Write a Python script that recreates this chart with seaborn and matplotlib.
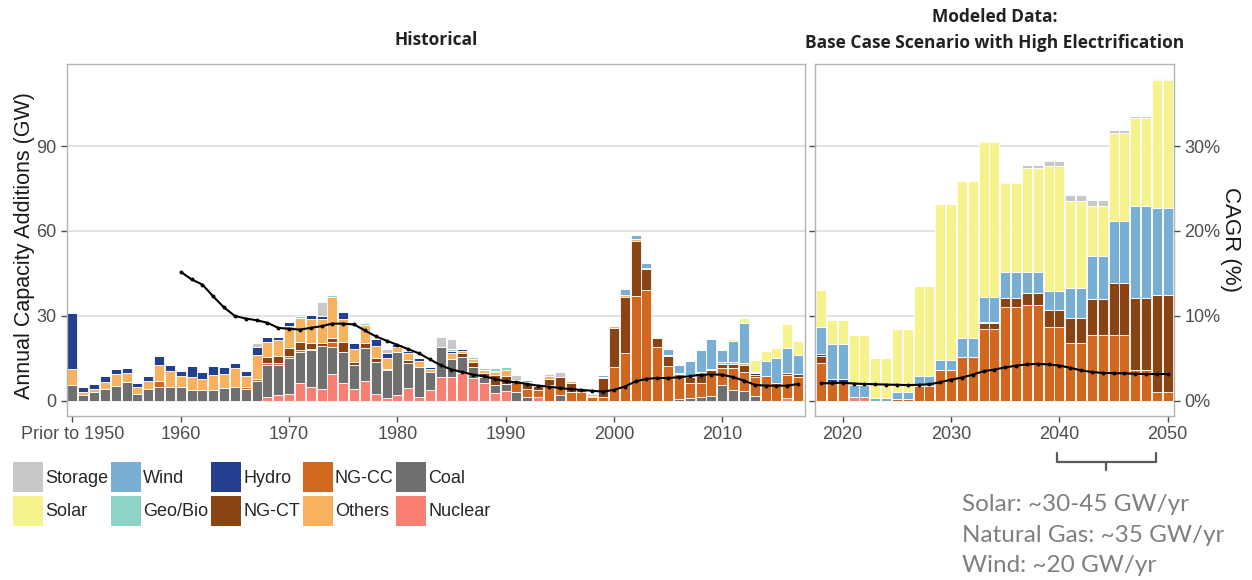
import matplotlib
matplotlib.use("Agg")
import matplotlib.pyplot as plt
import pandas as pd
import seaborn as sns
from matplotlib.patches import Patch
from matplotlib.lines import Line2D
from matplotlib.ticker import FuncFormatter

sns.set_theme(style="white")
plt.rcParams["font.family"] = ["Liberation Sans", "DejaVu Sans"]

# ---------------- historical annual additions (GW), 1950 ("Prior to 1950") .. 2017
hist_years = list(range(1950, 2018))

hist_nuclear = [0, 0, 0, 0, 0, 0, 0, 0, 0, 0,
                0, 0, 0, 0, 0, 0, 0, 0, 1.5, 2.1,
                2.4, 6.2, 5.0, 4.1, 9.4, 6.5, 4.1, 7.1, 2.4, 0.9,
                2.1, 4.5, 1.3, 3.9, 8.4, 8.6, 9.8, 8.0, 6.2, 2.7,
                3.5, 0, 0, 1.3, 0, 0, 0, 0, 0, 0,
                0, 0, 0, 0, 0, 0, 0, 0, 0, 0,
                0, 0, 0, 0, 0, 0, 1.2, 0]
hist_coal = [5.6, 2.1, 3.1, 4.1, 5.4, 6.6, 2.4, 4.1, 5.1, 5.1,
             5.1, 3.9, 3.9, 3.9, 4.7, 4.8, 4.1, 7.1, 11.2, 10.6,
             12.7, 11.2, 13.0, 15.3, 9.8, 10.9, 8.6, 11.5, 11.5, 10.0,
             15.3, 9.0, 10.8, 6.5, 10.8, 6.1, 5.6, 3.9, 2.4, 2.9,
             2.4, 3.3, 1.5, 0, 0, 2.1, 0, 0, 0, 0,
             0, 0, 0, 0, 0, 0, 0.6, 0.9, 1.5, 1.8,
             5.6, 3.9, 3.5, 1.8, 0, 0, 0, 0]
hist_ngcc = [0, 0, 0, 0, 0, 0, 0, 0, 2.1, 0,
             0, 0, 0, 0, 0, 0.3, 0.7, 0.7, 0.8, 0.6,
             0.6, 0.6, 0.5, 0, 1.7, 0, 0, 0, 0, 0,
             0, 0, 0, 0, 0, 0, 0, 0, 0, 0,
             0, 3.5, 2.9, 2.6, 5.5, 2.4, 3.3, 3.3, 1.5, 1.5,
             12.1, 16.8, 37.0, 39.2, 19.2, 12.5, 8.8, 5.5, 4.7, 7.4,
             5.9, 7.6, 6.8, 6.8, 8.8, 6.2, 8.0, 8.6]
hist_ngct = [0, 0, 0, 0, 0, 0, 0, 0, 0, 0,
             0, 0, 0, 0, 0, 0, 0, 0, 2.1, 2.6,
             2.9, 2.7, 2.0, 0.9, 1.5, 3.5, 1.2, 1.8, 1.4, 0.5,
             0, 1.0, 0, 0, 0, 0, 1.4, 2.0, 1.4, 3.5,
             2.9, 0, 1.8, 1.4, 2.4, 4.1, 2.9, 1.0, 0.3, 6.5,
             13.5, 19.8, 19.5, 7.3, 2.9, 3.2, 0, 2.0, 3.5, 1.8,
             1.5, 1.5, 2.4, 0.6, 0, 0, 0.8, 0.9]
hist_others = [5.7, 1.2, 1.0, 2.7, 4.1, 3.2, 2.7, 3.1, 5.5, 5.5,
               3.8, 4.7, 3.7, 5.3, 4.7, 6.7, 4.1, 8.5, 5.1, 5.6,
               7.9, 8.5, 8.5, 8.5, 14.2, 8.0, 4.5, 6.4, 4.2, 3.7,
               1.6, 2.3, 2.0, 1.0, 0, 2.1, 0.8, 0.8, 0.9, 1.2,
               2.1, 0.6, 0.6, 0.4, 0.8, 0, 1.0, 0.2, 0.6, 0.6,
               0.8, 0.8, 0.8, 0.3, 0.6, 0.6, 0.6, 0.4, 0.6, 0.2,
               0.8, 0.8, 0.6, 0, 0, 0, 0, 0]
hist_hydro = [19.6, 1.5, 1.8, 2.0, 1.7, 1.7, 1.1, 1.5, 3.2, 2.1,
              1.8, 3.8, 2.5, 3.3, 2.5, 1.5, 1.8, 2.6, 2.0, 1.2,
              1.2, 0, 1.5, 1.2, 0, 2.4, 2.0, 0, 2.3, 2.0,
              1.1, 1.0, 0.9, 0.5, 0, 0.9, 0.6, 0, 0, 0.3,
              0, 0, 0, 0, 0, 0, 0, 0, 0, 0,
              0, 0, 0, 0, 0, 0, 0, 0, 0, 0,
              0, 0, 0, 0.6, 0, 0, 0, 0]
hist_geo = [0.4, 0, 0, 0, 0, 0, 0, 0, 0, 0,
            0, 0, 0, 0, 0, 0, 0, 0, 0, 0,
            0.3, 0.8, 0, 0, 0.8, 0, 0, 0.8, 0, 0,
            0, 0, 0, 0, 0, 0.8, 0, 0.9, 0.9, 1.2,
            1.0, 0, 0, 0, 0, 0, 0.2, 0, 0, 0,
            0, 0, 0, 0, 0, 0, 0, 0, 0, 0,
            0, 0, 0, 0, 0, 0, 0, 0]
hist_wind = [0, 0, 0, 0, 0, 0, 0, 0, 0, 0,
             0, 0, 0, 0, 0, 0, 0, 0, 0, 0,
             0, 0, 0, 0, 0, 0, 0, 0, 0, 0,
             0, 0, 0, 0, 0, 0, 0, 0, 0, 0,
             0, 0, 0.6, 0, 0, 0, 0, 0, 0, 0.6,
             0, 2.0, 1.2, 2.0, 0.3, 2.0, 2.7, 5.3, 7.6, 10.6,
             4.1, 7.4, 14.1, 0.6, 5.3, 8.8, 8.8, 6.7]
hist_solar = [0, 0, 0, 0, 0, 0, 0, 0, 0, 0,
              0, 0, 0, 0, 0, 0, 0, 0, 0, 0,
              0, 0, 0, 0, 0, 0, 0, 0, 0, 0,
              0, 0, 0, 0, 0, 0, 0, 0, 0, 0,
              0, 0, 0, 0, 0, 0, 0, 0, 0, 0,
              0, 0, 0, 0, 0, 0, 0, 0, 0, 0,
              0, 0.8, 1.8, 3.9, 3.5, 3.8, 8.4, 5.1]
hist_storage = [0, 0, 0, 0, 0, 0, 0, 0, 0, 0,
                0, 0, 0, 0, 0, 0, 0, 1.5, 0, 0,
                0, 0, 0, 5.0, 0, 0, 0, 0, 0, 1.1,
                0, 0, 0, 0, 3.3, 3.2, 0, 0, 0, 0,
                0, 1.8, 0, 0.2, 0.7, 1.8, 0, 0, 0, 0,
                0, 0, 0, 0, 0, 0, 0, 0, 0, 0,
                0, 0, 0, 0, 0, 0, 0, 0]

# ---------------- modeled additions (GW), 2018 .. 2050
proj_years = list(range(2018, 2051))

proj_nuclear = [0, 0, 0, 1.5, 1.5, 0, 0, 0, 0, 0, 0, 0, 0, 0, 0, 0, 0,
                0, 0, 0, 0, 0, 0, 0, 0, 0, 0, 0, 0, 0, 0, 0, 0]
proj_coal = [0] * 33
proj_ngcc = [13.3, 6.2, 6.2, 0, 0, 0, 0, 0.7, 0.7, 5.3, 5.3, 10.9, 10.9,
             15.6, 15.6, 25.3, 25.3, 33.3, 33.3, 33.9, 33.9, 26.2, 26.2,
             20.4, 20.4, 23.3, 23.3, 23.3, 23.3, 10.9, 10.9, 3.3, 3.3]
proj_ngct = [2.4, 0, 0, 0, 0, 0, 0, 0, 0, 0, 0, 0, 0,
             0, 0, 2.1, 2.1, 2.9, 2.9, 4.1, 4.1, 5.9, 5.9,
             8.8, 8.8, 12.6, 12.6, 18.2, 18.2, 25.6, 25.6, 34.1, 34.1]
proj_others = [0] * 33
proj_hydro = [0.9, 1.4, 1.4, 0, 0, 0, 0, 0, 0, 0, 0, 0, 0, 0, 0, 0, 0,
              0, 0, 0, 0, 0, 0, 0, 0, 0, 0, 0, 0, 0, 0, 0, 0]
proj_geo = [0, 0, 0, 0, 0, 0, 0, 0, 0, 0, 0, 0, 0, 0, 0, 0.3, 0.3,
            0, 0, 0, 0, 0, 0, 0, 0, 0, 0, 0, 0, 0, 0, 0, 0]
proj_wind = [9.4, 12.5, 12.5, 4.1, 4.1, 1.2, 1.2, 2.6, 2.6, 3.5, 3.5, 3.5, 3.5,
             6.5, 6.5, 8.9, 8.9, 9.4, 9.4, 7.6, 7.6, 6.8, 6.8,
             10.8, 10.8, 15.4, 15.4, 22.1, 22.1, 32.2, 32.2, 30.6, 30.6]
proj_solar = [13.2, 8.5, 8.5, 17.6, 17.6, 14.1, 14.1, 22.1, 22.1, 31.8, 31.8, 55.1, 55.1,
              55.6, 55.6, 54.9, 54.9, 31.2, 31.2, 36.8, 36.8, 44.0, 44.0,
              30.7, 30.7, 17.6, 17.6, 31.1, 31.1, 31.3, 31.3, 45.3, 45.3]
proj_storage = [0, 0, 0, 0, 0, 0, 0, 0, 0, 0, 0, 0, 0, 0, 0, 0.4, 0.4,
                0.6, 0.6, 0.8, 0.8, 1.8, 1.8, 2.0, 2.0, 2.0, 2.0, 0.9, 0.9,
                0.5, 0.5, 0.3, 0.3]

# ---------------- compound annual growth rate (%)
cagr_hist_years = list(range(1960, 2018))
cagr_hist = [15.2, 14.3, 13.7, 12.3, 11.0, 10.0, 9.7, 9.5, 9.2, 8.6,
             8.5, 8.4, 8.6, 8.8, 9.1, 9.1, 9.0, 8.3, 7.6, 7.1,
             6.6, 6.1, 5.6, 4.9, 4.2, 3.7, 3.4, 3.1, 2.9, 2.6,
             2.3, 2.2, 2.0, 1.8, 1.7, 1.5, 1.4, 1.3, 1.2, 1.1,
             1.3, 1.7, 2.3, 2.6, 2.7, 2.7, 2.8, 2.9, 3.1, 3.1,
             3.1, 2.8, 2.4, 1.9, 1.8, 1.8, 1.8, 2.0]
cagr_proj_years = list(range(2018, 2051))
cagr_proj = [2.07, 2.1, 2.15, 2.05, 2.0, 1.97, 1.93, 1.9, 1.87, 1.9, 1.97,
             2.2, 2.5, 2.75, 3.1, 3.5, 3.7, 3.95, 4.15, 4.3, 4.37, 4.3,
             4.17, 3.9, 3.6, 3.4, 3.3, 3.27, 3.25, 3.2, 3.17, 3.17, 3.17]

# ---------------- labels and styling
hist_ticks = [1950, 1960, 1970, 1980, 1990, 2000, 2010]
hist_tick_labels = ["Prior to 1950", "1960", "1970", "1980", "1990", "2000", "2010"]
proj_ticks = [2020, 2030, 2040, 2050]
gw_ticks = [0, 30, 60, 90]
cagr_ticks = [0, 10, 20, 30]

stack_order = ["Storage", "Solar", "Wind", "Geo/Bio", "Hydro",
               "Others", "NG-CT", "NG-CC", "Coal", "Nuclear"]  # top -> bottom
legend_order = ["Storage", "Solar", "Wind", "Geo/Bio", "Hydro",
                "NG-CT", "NG-CC", "Others", "Coal", "Nuclear"]
palette = {
    "Storage": "#c8c8c8", "Solar": "#f6f38d", "Wind": "#7aafd5",
    "Geo/Bio": "#8dd4c6", "Hydro": "#243f8d", "NG-CT": "#8a4413",
    "NG-CC": "#d2681f", "Others": "#f8b15f", "Coal": "#6f6f6f",
    "Nuclear": "#f87f72",
}

hist_series = {
    "Nuclear": hist_nuclear, "Coal": hist_coal, "NG-CC": hist_ngcc,
    "NG-CT": hist_ngct, "Others": hist_others, "Hydro": hist_hydro,
    "Geo/Bio": hist_geo, "Wind": hist_wind, "Solar": hist_solar,
    "Storage": hist_storage,
}
proj_series = {
    "Nuclear": proj_nuclear, "Coal": proj_coal, "NG-CC": proj_ngcc,
    "NG-CT": proj_ngct, "Others": proj_others, "Hydro": proj_hydro,
    "Geo/Bio": proj_geo, "Wind": proj_wind, "Solar": proj_solar,
    "Storage": proj_storage,
}


def long_table(years, series):
    rows = []
    for name, values in series.items():
        for yr, v in zip(years, values):
            rows.append({"year": yr, "source": name, "gw": v})
    return pd.DataFrame(rows)


W, H = 1252, 580
GW_LO, GW_HI = -5.2, 118.95
GRID = "#dadada"
BORDER = "#b3b3b3"
TICKC = "#4d4d4d"


def frac_box(x0, y0, x1, y1):
    return [x0 / W, 1 - y1 / H, (x1 - x0) / W, (y1 - y0) / H]


fig = plt.figure(figsize=(W / 100, H / 100), dpi=100)
ax_h = fig.add_axes(frac_box(66.7, 64, 805, 415.7))
ax_p = fig.add_axes(frac_box(815, 64, 1174, 415.7))

panels = [
    (ax_h, long_table(hist_years, hist_series), (1949.47, 2017.64)),
    (ax_p, long_table(proj_years, proj_series), (2017.44, 2050.58)),
]
for ax, df, xlim in panels:
    sns.histplot(data=df, x="year", weights="gw", hue="source",
                 hue_order=stack_order, palette=palette, multiple="stack",
                 discrete=True, shrink=0.92, edgecolor="white", linewidth=0.6,
                 alpha=1, legend=False, ax=ax)
    ax.set_xlim(*xlim)
    ax.set_ylim(GW_LO, GW_HI)
    ax.set_axisbelow(True)
    ax.yaxis.grid(True, color=GRID, lw=1.1)
    ax.set_xlabel("")
    ax.set_ylabel("")
    for sp in ax.spines.values():
        sp.set_color(BORDER)
        sp.set_linewidth(1.0)
    ax.tick_params(axis="both", colors=TICKC, labelsize=13, length=4,
                   width=1, direction="out", bottom=True, left=True)

ax_h.set_yticks(gw_ticks)
ax_h.set_xticks(hist_ticks)
ax_h.set_xticklabels(hist_tick_labels)
ax_p.set_yticks(gw_ticks)
ax_p.tick_params(axis="y", left=False, labelleft=False)
ax_p.set_xticks(proj_ticks)

# CAGR curves on secondary scales (10 % spans the same height as 30 GW)
for ax, yrs, vals, show in [(ax_h, cagr_hist_years, cagr_hist, False),
                            (ax_p, cagr_proj_years, cagr_proj, True)]:
    tw = ax.twinx()
    sns.lineplot(x=yrs, y=vals, ax=tw, color="black", lw=1.5, marker="o",
                 markersize=2.8, markeredgewidth=0)
    tw.set_ylim(GW_LO / 3, GW_HI / 3)
    tw.set_xlim(ax.get_xlim())
    tw.set_ylabel("")
    for sp in tw.spines.values():
        sp.set_visible(False)
    if show:
        tw.set_yticks(cagr_ticks)
        tw.yaxis.set_major_formatter(FuncFormatter(lambda v, p: f"{v:.0f}%"))
        tw.tick_params(axis="y", colors=TICKC, labelsize=13, length=4, width=1)
    else:
        tw.set_yticks([])

# panel titles
title_font = dict(family=["Open Sans", "DejaVu Sans"], fontweight="bold",
                  fontsize=12.5, color="#222222", ha="center", va="center")
fig.text(436 / W, 1 - 40 / H, "Historical", **title_font)
fig.text(994.5 / W, 1 - 17 / H, "Modeled Data:", **title_font)
fig.text(994.5 / W, 1 - 43 / H, "Base Case Scenario with High Electrification", **title_font)

# axis titles
fig.text(25 / W, 1 - 246 / H, "Annual Capacity Additions (GW)", rotation=90,
         ha="center", va="center", fontsize=15.5, color="#1a1a1a")
fig.text(1231 / W, 1 - 240 / H, "CAGR (%)", rotation=-90,
         ha="center", va="center", fontsize=16, color="#1a1a1a")

# legend
handles = [Patch(facecolor=palette[s], edgecolor="none", label=s) for s in legend_order]
fig.legend(handles=handles, ncol=5, loc="upper left",
           bbox_to_anchor=(13 / W, 1 - 462 / H), frameon=False, fontsize=13,
           handlelength=1.66, handleheight=2.18, handletextpad=0.12,
           columnspacing=0.15, labelspacing=0.2, borderpad=0, borderaxespad=0)

# bracket over the 2041-2050 bars, with a summary beneath it
bc = "#5a5a5a"
pts = [(1056.7, 453.3), (1056.7, 461.7), (1156, 461.7), (1156, 453.3)]
fig.add_artist(Line2D([p[0] / W for p in pts], [1 - p[1] / H for p in pts],
                      transform=fig.transFigure, color=bc, lw=1.6))
fig.add_artist(Line2D([1105.7 / W, 1105.7 / W], [1 - 461.7 / H, 1 - 470 / H],
                      transform=fig.transFigure, color=bc, lw=1.6))
summary = ["Solar: ~30-45 GW/yr", "Natural Gas: ~35 GW/yr", "Wind: ~20 GW/yr"]
for line, base in zip(summary, [511, 541.7, 571.7]):
    fig.text(962 / W, 1 - base / H, line, family=["Lato", "DejaVu Sans"],
             fontsize=17.5, color="#7f7f7f", ha="left", va="baseline")

fig.savefig("out.png", dpi=100)
